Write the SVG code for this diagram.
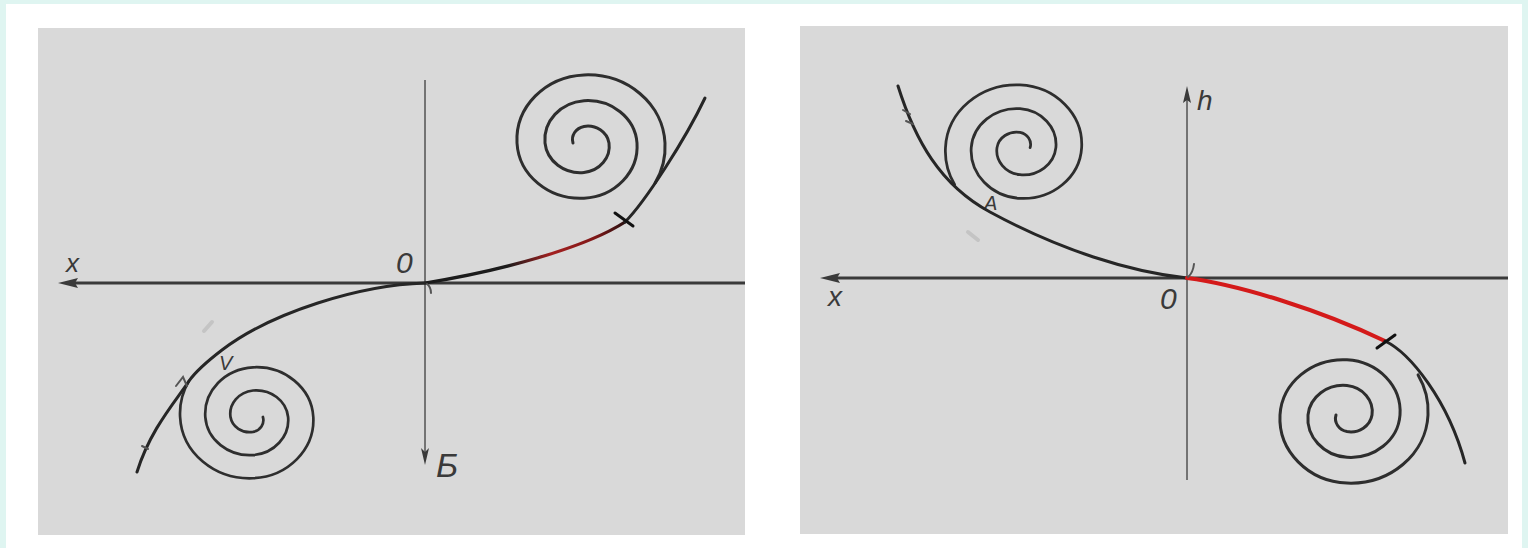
<svg xmlns="http://www.w3.org/2000/svg" width="1528" height="548" viewBox="0 0 1528 548">
<style>
.panel{fill:#d9d9d9}
.axis{stroke:#3a3a3a;stroke-width:3;fill:none}
.vaxis{stroke:#5a5a5a;stroke-width:1.6;fill:none}
.traj{stroke:#262626;stroke-width:3;fill:none;stroke-linecap:round;stroke-linejoin:round}
.traj.red{stroke:#d41a1a;stroke-width:4}
.traj.dred{stroke:url(#lred);stroke-width:3.2}
.sp{stroke:#2e2e2e;stroke-width:3;fill:none;stroke-linecap:round}
.tick{stroke:#111;stroke-width:3;stroke-linecap:round}
.head{fill:#3a3a3a}
.lbl{font-family:"Liberation Sans",Arial,sans-serif;font-style:italic;fill:#3a3a3a}
.mark{stroke:#555;stroke-width:2;fill:none;stroke-linecap:round}
.ghost{stroke:#c4c4c4;stroke-width:4;fill:none;stroke-linecap:round}
</style>
<defs>
<path id="spiral" d="M71.1,40.1 A83,76 0 0 0 81,0 A77.5,71.3 0 0 0 0,-68.08 A70.5,64.9 0 0 0 -67,0 A63.5,58.4 0 0 0 0,55.2 A56.5,52 0 0 0 53,0 A49.5,45.5 0 0 0 0,-42.32 A42.5,39.1 0 0 0 -39,0 A35.5,32.7 0 0 0 0,29.44 A28.5,26.2 0 0 0 25,0 A21.5,19.8 0 0 0 0,-16.56 A14.5,13.3 0 0 0 -11,0"/>
<linearGradient id="lred" gradientUnits="userSpaceOnUse" x1="425" y1="283" x2="625" y2="222">
<stop offset="0" stop-color="#1c1c1c"/>
<stop offset="0.4" stop-color="#1c1c1c"/>
<stop offset="0.62" stop-color="#a32020"/>
<stop offset="0.84" stop-color="#801818"/>
<stop offset="1" stop-color="#2a1010"/>
</linearGradient>
</defs>
<rect width="1528" height="548" fill="#dff5f1"/>
<rect x="6" y="4" width="1516" height="544" fill="#ffffff"/>

<g id="panel-left">
<rect class="panel" x="38" y="28" width="707" height="507"/>
<g id="left-axes">
<line class="axis" x1="70" y1="283" x2="745" y2="283"/>
<polygon class="head" points="58,283 78,278 75,283 78,288"/>
<line class="vaxis" x1="425" y1="80" x2="425" y2="455"/>
<polygon class="head" points="425,465 421,448 425,452 429,448"/>
<text class="lbl" x="66" y="272" font-size="26">x</text>
<text class="lbl" x="396" y="273" font-size="30">0</text>
<text class="lbl" x="436" y="477" font-size="34">Б</text>
</g>
<g id="left-spirals">
<use href="#spiral" class="sp" transform="translate(584,143)"/>
<use href="#spiral" class="sp" transform="translate(253,417) rotate(180) scale(0.9)"/>
<text class="lbl" x="219" y="370" font-size="20">V</text>
</g>
<g id="left-connectors">
<path class="traj dred" d="M425,283 C500,271 585,248 625,222"/>
<path class="traj" d="M625,222 C645,202 685,140 705,98"/>
<path class="traj" d="M425,283 C360,285 272,312 222,350 C205,363 196,371 189,381 C175,402 150,430 137,472"/>
<line class="tick" x1="615" y1="213" x2="633" y2="226"/>
<path class="mark" d="M427,284 Q431,287 431,293"/>
<path class="mark" d="M176,386 L183,377 L187,386"/>
<path class="mark" d="M142,446 L148,449"/>
<path class="ghost" d="M204,331 L212,322"/>
</g>
</g>

<g id="panel-right">
<rect class="panel" x="800" y="26" width="708" height="508"/>
<g id="right-axes">
<line class="axis" x1="832" y1="278" x2="1508" y2="278"/>
<polygon class="head" points="820,278 840,273 837,278 840,283"/>
<line class="vaxis" x1="1187" y1="98" x2="1187" y2="480"/>
<polygon class="head" points="1187,86 1183,103 1187,100 1191,103"/>
<text class="lbl" x="828" y="306" font-size="28">x</text>
<text class="lbl" x="1160" y="309" font-size="30">0</text>
<text class="lbl" x="1197" y="110" font-size="28">h</text>
</g>
<g id="right-spirals">
<use href="#spiral" class="sp" transform="translate(1020,147.6) scale(-0.92,0.92)"/>
<use href="#spiral" class="sp" transform="translate(1347,415) scale(1,-1)"/>
<text class="lbl" x="984" y="210" font-size="20">A</text>
</g>
<g id="right-connectors">
<path class="traj" d="M898,86 C915,140 940,185 990,212 C1060,250 1130,272 1187,278"/>
<path class="traj red" d="M1187,278 C1240,285 1320,310 1385,341"/>
<path class="traj" d="M1385,341 C1410,353 1448,400 1465,463"/>
<line class="tick" x1="1377" y1="348" x2="1395" y2="335"/>
<path class="mark" d="M1188,277 Q1193,273 1194,264"/>
<path class="mark" d="M903,110 L910,114"/>
<path class="mark" d="M906,121 L913,124"/>
<path class="ghost" d="M968,232 L978,240"/>
</g>
</g>
</svg>
